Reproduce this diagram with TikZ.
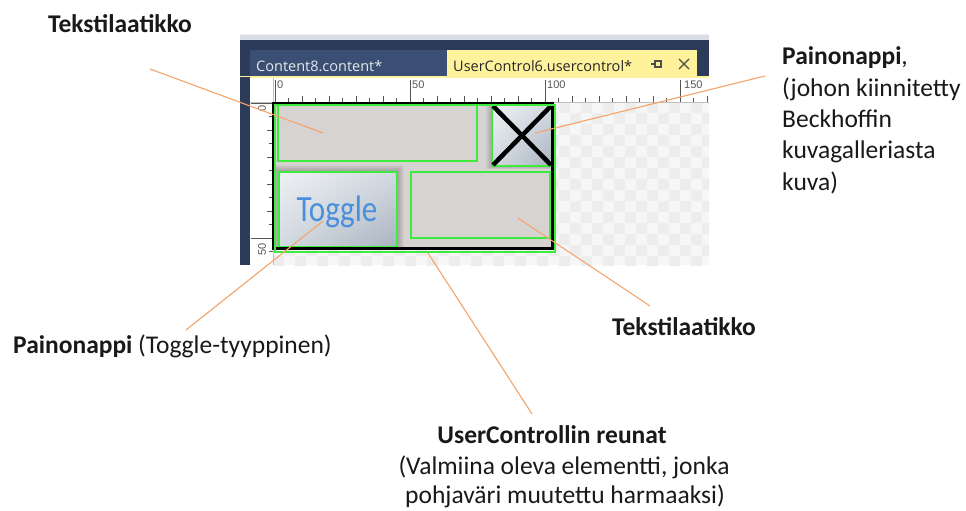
\documentclass[tikz,border=0pt]{standalone}
\usepackage{fontspec}
\usetikzlibrary{shadings}
\setmainfont{Carlito}
\newfontfamily\uifont{Open Sans}
\newfontfamily\rulerfont{Liberation Sans}
\definecolor{navy}{HTML}{2B3B58}
\definecolor{tabnavy}{HTML}{3A4F73}
\definecolor{tabyellow}{HTML}{FFF29D}
\definecolor{topband}{HTML}{D9DDE6}
\definecolor{ucgray}{HTML}{D7D3D2}
\definecolor{uigreen}{HTML}{3CEB3C}
\definecolor{leadcol}{HTML}{F5A36B}
\definecolor{chkA}{HTML}{F6F6F6}
\definecolor{chkB}{HTML}{EDEDED}
\definecolor{tickcol}{HTML}{555555}
\definecolor{btnlight}{HTML}{EEF1F5}
\definecolor{btnmid}{HTML}{D3D9E0}
\definecolor{btndark}{HTML}{A9B4C0}
\definecolor{togglefg}{HTML}{4A8FDC}
\begin{document}
\begin{tikzpicture}[x=1pt,y=-1pt,
  lead/.style={draw=leadcol, line width=1.1pt},
  lbl/.style={font=\fontsize{25.5}{31}\selectfont, inner sep=0pt, text=black!90},
  lblb/.style={lbl, font=\fontsize{25.5}{31}\selectfont\bfseries},
  greenbox/.style={draw=uigreen, line width=1.4pt},
  rulerlbl/.style={font=\rulerfont\fontsize{11}{11}\selectfont, text=tickcol, inner sep=0pt},
  tabtxt/.style={font=\uifont\fontsize{14.5}{15}\selectfont, inner sep=0pt}]
\useasboundingbox (0,0) rectangle (966,511);
\fill[white] (0,0) rectangle (966,511);

% --- editor window: title band and tab strip
\fill[topband] (240,34) rectangle (709,40);
\fill[white!60!topband] (240,34) rectangle (709,35.5);
\fill[navy] (240,40) rectangle (709,77);
\fill[tabnavy] (250,50) rectangle (447,77);
\fill[tabyellow] (447,50) rectangle (697,77);
\fill[tabyellow] (240,76) rectangle (709,78);
\node[tabtxt, text=white!88!navy, anchor=base west] (tab1) at (256,71) {Content8.content*};
\node[tabtxt, text=black!85, anchor=base west] (tab2) at (453,71) {UserControl6.usercontrol*};
% pin icon
\draw[black!70, line width=1.2pt] (651,64) -- (655,64);
\draw[black!70, line width=1.2pt] (655,60) -- (655,68);
\draw[black!70, line width=1.1pt] (655,61) rectangle (661,67);
% close icon
\draw[black!70, line width=1.4pt] (679,59) -- (689,69) (689,59) -- (679,69);

% --- rulers
\fill[white] (250,78) rectangle (709,102);
\fill[white] (250,102) rectangle (273,265);
\fill[navy] (240,77) rectangle (250,265);
\draw[black!25, line width=0.6pt] (250,102) -- (709,102);
\draw[black!25, line width=0.6pt] (273,78) -- (273,265);
\foreach \u in {0,5,...,160}{
  \pgfmathsetmacro\tl{mod(\u,50)==0 ? 22 : (mod(\u,10)==0 ? 6 : 4)}
  \draw[tickcol, line width=0.7pt] (275+2.7*\u,102) -- ++(0,-\tl);
}
\node[rulerlbl, anchor=north west] (h0) at (277,81) {0};
\node[rulerlbl, anchor=north west] (h50) at (412,81) {50};
\node[rulerlbl, anchor=north west] (h100) at (547,81) {100};
\node[rulerlbl, anchor=north west] (h150) at (684,81) {150};
\foreach \u in {0,5,...,55}{
  \pgfmathsetmacro\tl{mod(\u,50)==0 ? 22 : (mod(\u,10)==0 ? 6 : 4)}
  \draw[tickcol, line width=0.7pt] (273,103+2.7*\u) -- ++(-\tl,0);
}
\node[rulerlbl, rotate=90, anchor=north west] (v0) at (258,112) {0};
\node[rulerlbl, rotate=90, anchor=north west] (v50) at (258,256) {50};

% --- design canvas with checker pattern
\begin{scope}
  \clip (274,103) rectangle (709,265);
  \fill[chkA] (273,102) rectangle (709,265);
  \foreach \i in {0,...,40}{
    \foreach \j in {0,...,15}{
      \pgfmathtruncatemacro\cpar{mod(\i+\j,2)}
      \ifnum\cpar=0
        \fill[chkB] (273+\i*11,102+\j*11) rectangle ++(11,11);
      \fi
    }
  }
\end{scope}

% --- user control body
\fill[ucgray] (273,103) rectangle (552,248);

% top-left text box
\draw[greenbox, fill=ucgray] (278,105) rectangle (477,161);
\coordinate (tb1pt) at (323,133);

% image button with cross
\foreach \k in {1,...,6}
  \fill[black, opacity=0.035] (492-\k,105) rectangle (552,166+\k*0.5);
\shade[upper left=btnlight, upper right=btnmid, lower left=btnmid, lower right=btndark]
  (492,105) rectangle (552,166);
\draw[greenbox] (492,105) rectangle (552,166);
\draw[black, line width=4.5pt] (493,106) -- (551,165) (551,106) -- (493,165);
\coordinate (xbpt) at (535,133);

% toggle button with soft shadow
\foreach \k in {1,...,7}
  \fill[black, opacity=0.035] (279-\k,172-\k) rectangle (397+\k,247);
\shade[upper left=btnlight, upper right=btnmid, lower left=btnmid, lower right=btndark]
  (279,172) rectangle (397,247);
\draw[greenbox] (279,172) rectangle (397,247);
\node[font=\fontsize{37}{37}\selectfont, text=togglefg, xscale=0.84, inner sep=0pt, anchor=base] (toggle) at (337,221) {Toggle};
\coordinate (tgpt) at (323,221);

% bottom-right text box
\draw[greenbox] (411,172) rectangle (550,238);
\coordinate (tb2pt) at (518,218);

% user control frame and selection outline
\draw[black, line width=3pt] (273,103) rectangle (552,248);
\draw[greenbox] (275,105) rectangle (555,252);
\coordinate (ucpt) at (428,253);

% --- callout labels
\node[lblb, anchor=base west] (lblTb1) at (48,33) {Tekstilaatikko};
\coordinate (lblTb1pt) at (150,69);

\node[lbl, anchor=base west] (lblXb1) at (782,64) {\textbf{Painonappi},};
\node[lbl, anchor=base west] (lblXb2) at (782,96) {(johon kiinnitetty};
\node[lbl, anchor=base west] (lblXb3) at (782,127) {Beckhoffin};
\node[lbl, anchor=base west] (lblXb4) at (782,158) {kuvagalleriasta};
\node[lbl, anchor=base west] (lblXb5) at (782,190) {kuva)};
\coordinate (lblXbpt) at (765,76);

\node[lbl, anchor=base west] (lblTg) at (13,353) {\textbf{Painonappi} (Toggle-tyyppinen)};
\coordinate (lblTgpt) at (186,330);

\node[lblb, anchor=base west] (lblTb2) at (612,335) {Tekstilaatikko};
\coordinate (lblTb2pt) at (650,306);

\node[lblb, anchor=base] (lblUc1) at (552,443) {UserControllin reunat};
\node[lbl, anchor=base] (lblUc2) at (564,474) {(Valmiina oleva elementti, jonka};
\node[lbl, anchor=base] (lblUc3) at (565,503) {pohjaväri muutettu harmaaksi)};
\coordinate (lblUcpt) at (532,414);

% --- leader lines
\draw[lead] (lblTb1pt) -- (tb1pt);
\draw[lead] (lblXbpt) -- (xbpt);
\draw[lead] (lblTgpt) -- (tgpt);
\draw[lead] (lblTb2pt) -- (tb2pt);
\draw[lead] (lblUcpt) -- (ucpt);
\end{tikzpicture}
\end{document}
